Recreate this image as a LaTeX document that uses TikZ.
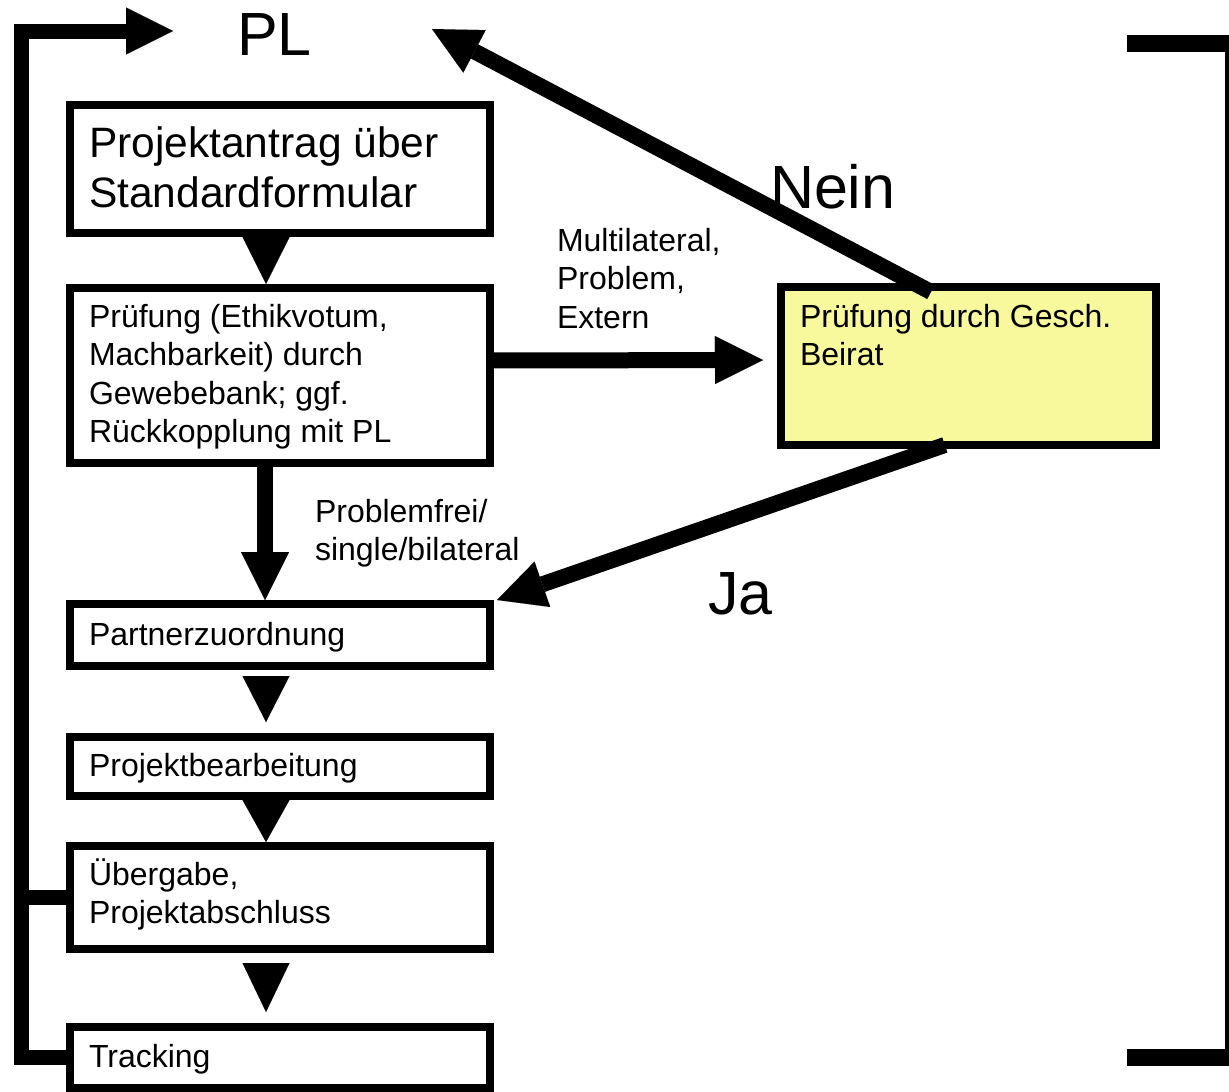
\documentclass[tikz,border=0pt]{standalone}
\usepackage{fontspec}
\setmainfont{Liberation Sans}
\usetikzlibrary{arrows.meta,calc}
\definecolor{beirat}{HTML}{F7F99C}

\tikzset{
  box/.style={draw, line width=8pt, anchor=north west, inner sep=0pt, outer sep=0pt},
  % multi-line texts are anchored at the baseline of their last line
  txt/.style={anchor=base west, inner sep=0pt, outer sep=0pt, align=left},
  small/.style={txt, font=\fontsize{32}{38.5}\selectfont},
  large/.style={txt, font=\fontsize{42.5}{50}\selectfont},
  huge/.style={txt, font=\fontsize{61}{70}\selectfont},
  flow/.style={line width=16pt, -{Triangle[length=48pt 0 0, width=48pt 0 0, line width=0.01pt]}},
  loopline/.style={line width=15pt, line join=miter},
  head/.style={line width=0.1pt, -{Triangle[length=#1 0 0, width=47pt 0 0, line width=0.01pt]}}
}

\begin{document}
\begin{tikzpicture}[x=1pt, y=-1pt]
\useasboundingbox (0,0) rectangle (1229,1092);

% process boxes
\node[box, minimum width=420pt, minimum height=128pt] (b1) at (70,105) {};
\node[box, minimum width=420pt, minimum height=175pt] (b2) at (70,288) {};
\node[box, minimum width=420pt, minimum height=62pt]  (b3) at (70,604) {};
\node[box, minimum width=420pt, minimum height=59pt]  (b4) at (70,737) {};
\node[box, minimum width=420pt, minimum height=103pt] (b5) at (70,846) {};
\node[box, minimum width=420pt, minimum height=61pt]  (b6) at (70,1027) {};
\node[box, fill=beirat, minimum width=375pt, minimum height=158pt] (yb) at (781,287) {};

% box texts
\node[large] (t1) at (89,207) {Projektantrag über\\Standardformular};
\node[small] (t2) at (89,442.5) {Prüfung (Ethikvotum,\\Machbarkeit) durch\\Gewebebank; ggf.\\Rückkopplung mit PL};
\node[small] (t3) at (89,645) {Partnerzuordnung};
\node[small] (t4) at (89,776) {Projektbearbeitung};
\node[small] (t5) at (89,923.5) {Übergabe,\\Projektabschluss};
\node[small] (t6) at (89,1067) {Tracking};
\node[small] (ty) at (800,365.5) {Prüfung durch Gesch.\\Beirat};

% labels
\node[huge] (pl) at (237,55) {PL};
\node[huge] (nein) at (770,208) {Nein};
\node[huge] (ja) at (708,614) {Ja};
\node[small] (lm) at (557,328) {Multilateral,\\Problem,\\Extern};
\node[small] (lp) at (315,560.5) {Problemfrei/\\single/bilateral};

% helper coordinates
\coordinate (col) at (266,0);
\coordinate (fbx) at (21,31);
\coordinate (plin) at (173,31);
\coordinate (plr) at (432,29);

% feedback loop back to PL
\draw[loopline, -{Triangle[length=47pt 0 0, width=47pt 0 0, line width=0.01pt]}]
  (b6.west) -| (fbx) -- (plin);
\draw[loopline] (b5.west) -- (b5.west -| fbx);

% main flow
\draw[head=47pt] ($(b1.south -| col)+(0,4)$) -- ($(b2.north -| col)+(0,-4)$);
\draw[flow] (b2.south -| 265,0) -- ($(b3.north -| 265,0)+(0,-4)$);
\draw[head=46pt] ($(b3.south -| col)+(0,10)$) -- ($(b4.north -| col)+(0,-15)$);
\draw[head=42pt] ($(b4.south -| col)+(0,4)$) -- ($(b5.north -| col)+(0,-4)$);
\draw[head=49pt] ($(b5.south -| col)+(0,14)$) -- ($(b6.north -| col)+(0,-15)$);

% board review branch
\draw[flow] ($(b2.east)+(0,-15)$) -- ($(yb.west)+(-18,-6)$);
\draw[flow] ($(yb.north west)!0.4!(yb.north east)+(0,5)$) -- (plr);
\draw[flow] ($(yb.south west)!0.437!(yb.south east)$) -- ($(b3.north east)+(7,-4)$);

% right bracket
\fill (1127,35) rectangle (1229,52);
\fill (1225,52) rectangle (1229,1049);
\fill (1127,1049) rectangle (1229,1066);
\end{tikzpicture}
\end{document}
